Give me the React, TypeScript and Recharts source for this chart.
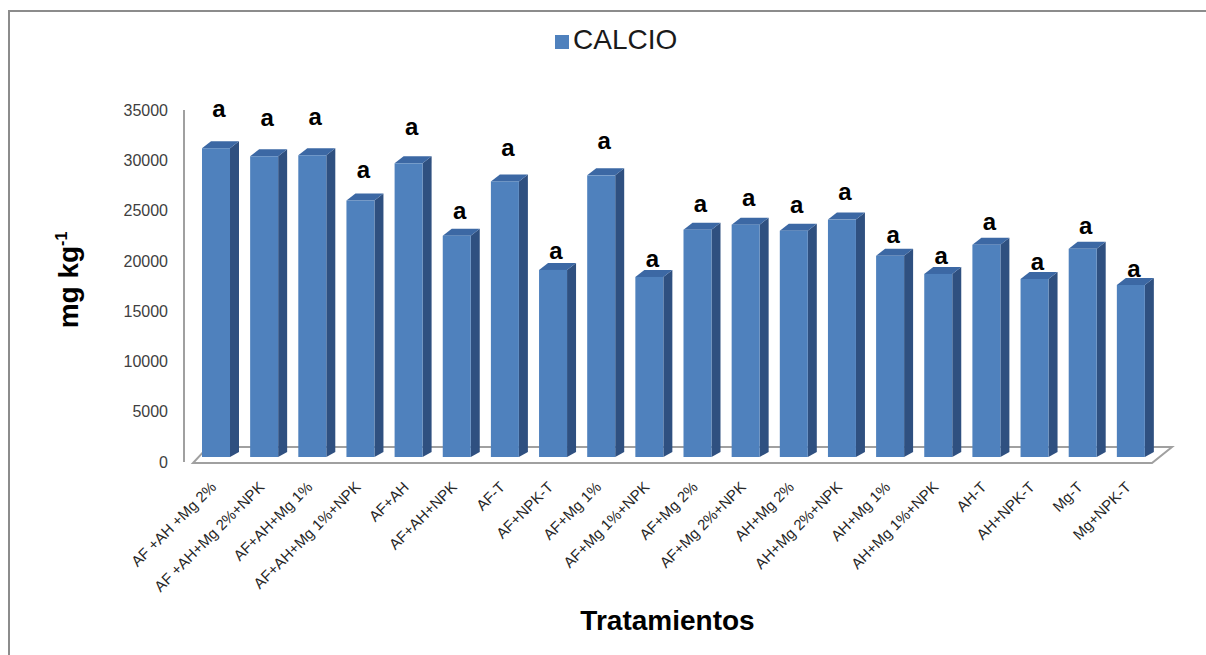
import { BarChart, Bar, XAxis, YAxis, Legend, LabelList, ReferenceArea, Label } from 'recharts'

const categories = [
  'AF +AH +Mg 2%',
  'AF +AH+Mg 2%+NPK',
  'AF+AH+Mg 1%',
  'AF+AH+Mg 1%+NPK',
  'AF+AH',
  'AF+AH+NPK',
  'AF-T',
  'AF+NPK-T',
  'AF+Mg 1%',
  'AF+Mg 1%+NPK',
  'AF+Mg 2%',
  'AF+Mg 2%+NPK',
  'AH+Mg 2%',
  'AH+Mg 2%+NPK',
  'AH+Mg 1%',
  'AH+Mg 1%+NPK',
  'AH-T',
  'AH+NPK-T',
  'Mg-T',
  'Mg+NPK-T',
]

const calcio = [
  31200, 30400, 30500, 26000, 29700, 22500, 27900, 19100, 28500, 18400,
  23100, 23600, 23000, 24100, 20500, 18700, 21600, 18200, 21200, 17600,
]

const letras = [
  'a', 'a', 'a', 'a', 'a', 'a', 'a', 'a', 'a', 'a',
  'a', 'a', 'a', 'a', 'a', 'a', 'a', 'a', 'a', 'a',
]

const yTicks = [0, 5000, 10000, 15000, 20000, 25000, 30000, 35000]

const data = categories.map((name, i) => ({
  name,
  calcio: calcio[i],
  letra: letras[i],
}))

const FONT = '"Liberation Sans", Arial, sans-serif'
const FRONT = '#4f81bd'
const SIDE = '#2f5080'
const TOP = '#3c68a4'
const GREY = '#a0a0a0'

// fake 3D column: front face + right side + top
const Bar3D = (props: any) => {
  const { x, y, width, height } = props
  if (height == null || height <= 0) return null
  const d = 9
  const e = 7
  const bottom = y + height - 5
  const r = x + width
  return (
    <g>
      <polygon
        points={`${r},${y} ${r + d},${y - e} ${r + d},${bottom - e + 2} ${r},${bottom}`}
        fill={SIDE}
      />
      <polygon
        points={`${x},${y} ${x + d},${y - e} ${r + d},${y - e} ${r},${y}`}
        fill={TOP}
      />
      <rect x={x} y={y} width={width} height={bottom - y} fill={FRONT} />
    </g>
  )
}

// floor of the 3D plot
const Floor = (props: any) => {
  const { x, y, width, height } = props
  const b = y + height + 1
  return (
    <polygon
      points={`${x + 1},${b} ${x + width - 3},${b} ${x + width + 17},${y} ${x + 16},${y}`}
      fill="none"
      stroke={GREY}
      strokeWidth={2}
    />
  )
}

const LetterLabel = (props: any) => {
  const vb = props.viewBox ?? props
  const { x, y, width } = vb
  const v = calcio[props.index] ?? 0
  const off = 15 + (v - 17500) * 0.0017
  return (
    <text
      x={x + width / 2 + 3}
      y={y - off + 7}
      textAnchor="middle"
      fontFamily={FONT}
      fontWeight="bold"
      fontSize={24}
      fill="#000"
    >
      {props.value}
    </text>
  )
}

const CategoryTick = (props: any) => {
  const { x, y, payload } = props
  return (
    <g transform={`translate(${x + 1},${y})`}>
      <text
        x={0}
        y={0}
        textAnchor="end"
        transform="rotate(-45)"
        fontFamily={FONT}
        fontSize={15}
        fill="#262626"
      >
        {payload.value}
      </text>
    </g>
  )
}

const renderLegend = () => (
  <div style={{ display: 'flex', alignItems: 'center', height: 40 }}>
    <span
      style={{
        display: 'inline-block',
        width: 14,
        height: 14,
        background: FRONT,
        marginRight: 4,
        marginTop: 4,
      }}
    />
    <span
      style={{
        fontFamily: FONT,
        fontSize: 28,
        lineHeight: '40px',
        color: '#1a1a1a',
      }}
    >
      CALCIO
    </span>
  </div>
)

export default function App() {
  return (
    <div
      style={{
        position: 'absolute',
        left: 0,
        top: 0,
        width: 1206,
        height: 655,
        background: '#fff',
        overflow: 'hidden',
      }}
    >
      <div
        style={{
          position: 'absolute',
          left: 8,
          top: 10,
          width: 1220,
          height: 680,
          borderTop: '2px solid #8c8c8c',
          borderLeft: '2px solid #8c8c8c',
        }}
      />
      <BarChart
        width={1206}
        height={655}
        data={data}
        margin={{ top: 70, right: 51, bottom: 0, left: 0 }}
        style={{ position: 'absolute', left: 0, top: 0 }}
      >
        <Legend
          verticalAlign="top"
          content={renderLegend}
          wrapperStyle={{ top: 20, left: 555, width: 200, height: 40 }}
        />
        <XAxis
          dataKey="name"
          type="category"
          interval={0}
          height={193}
          padding={{ left: 8, right: 0 }}
          axisLine={false}
          tickLine={false}
          tickSize={0}
          tickMargin={26}
          tick={<CategoryTick />}
        >
          <Label
            content={(p: any) => {
              const vb = p.viewBox
              return (
                <text
                  x={vb.x + vb.width / 2 - 2}
                  y={vb.y + 168}
                  textAnchor="middle"
                  fontFamily={FONT}
                  fontWeight="bold"
                  fontSize={28}
                  fill="#000"
                >
                  Tratamientos
                </text>
              )
            }}
          />
        </XAxis>
        <YAxis
          type="number"
          width={184}
          domain={[0, 35000]}
          ticks={yTicks}
          interval={0}
          axisLine={{ stroke: GREY, strokeWidth: 2 }}
          tickLine={false}
          tickMargin={10}
          tick={{ fontFamily: FONT, fontSize: 16, fill: '#404040' }}
        >
          <Label
            content={(p: any) => {
              const vb = p.viewBox
              const cx = vb.x + 78
              const cy = vb.y + vb.height / 2 - 6
              return (
                <text
                  x={cx}
                  y={cy}
                  textAnchor="middle"
                  transform={`rotate(-90, ${cx}, ${cy})`}
                  fontFamily={FONT}
                  fontWeight="bold"
                  fontSize={28}
                  fill="#000"
                >
                  mg kg
                  <tspan fontSize={16} dy={-11}>
                    -1
                  </tspan>
                </text>
              )
            }}
          />
        </YAxis>
        <ReferenceArea y1={0} y2={1500} shape={<Floor />} ifOverflow="visible" />
        <Bar
          dataKey="calcio"
          barSize={28}
          shape={<Bar3D />}
          isAnimationActive={false}
        >
          <LabelList dataKey="letra" content={<LetterLabel />} />
        </Bar>
      </BarChart>
    </div>
  )
}
